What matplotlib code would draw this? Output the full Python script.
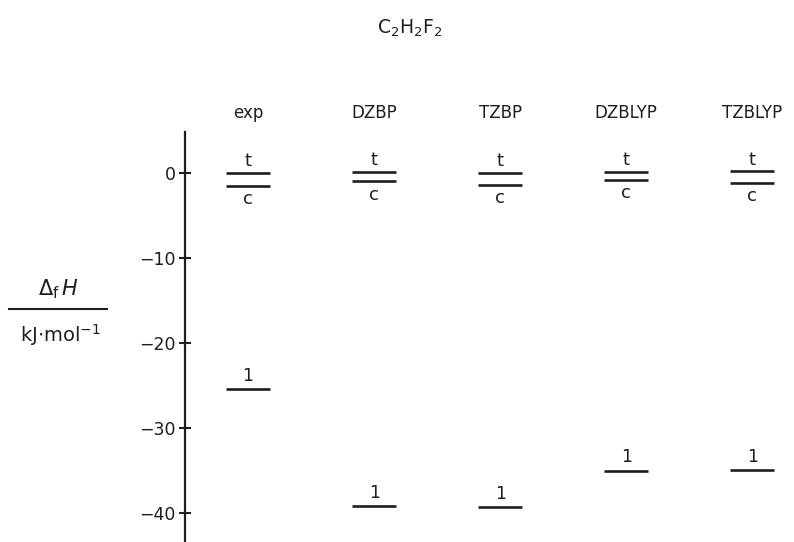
import matplotlib.pyplot as plt
from matplotlib.lines import Line2D

# energy levels, kJ/mol
methods = ["exp", "DZBP", "TZBP", "DZBLYP", "TZBLYP"]
trans_lvl = [0.0, 0.1, 0.05, 0.15, 0.2]
cis_lvl = [-1.5, -1.0, -1.45, -0.8, -1.2]
iso11_lvl = [-25.4, -39.2, -39.3, -35.0, -34.9]
yticks = [0, -10, -20, -30, -40]

ink = "#1e1e1e"
plt.rcParams["font.family"] = ["DejaVu Sans"]
plt.rcParams["mathtext.fontset"] = "dejavusans"

fig = plt.figure(figsize=(7.94, 5.42), dpi=100)
ax = fig.add_axes([185 / 794, 0, 609 / 794, 410 / 542])
ax.set_xlim(-0.5, 4.33)
ax.set_ylim(-43.4, 4.82)

hw = 0.175
for i, m in enumerate(methods):
    ax.hlines([trans_lvl[i], cis_lvl[i], iso11_lvl[i]], i - hw, i + hw, color=ink, lw=1.9)
    ax.annotate("t", (i, trans_lvl[i]), xytext=(0, 2), textcoords="offset points",
                ha="center", va="bottom", fontsize=13, color=ink)
    ax.annotate("c", (i, cis_lvl[i]), xytext=(0, -3), textcoords="offset points",
                ha="center", va="top", fontsize=13, color=ink)
    ax.annotate("1", (i, iso11_lvl[i]), xytext=(0, 3), textcoords="offset points",
                ha="center", va="bottom", fontsize=12.5, color=ink)
    ax.text(i, 1.034, m, transform=ax.get_xaxis_transform(), ha="center", va="baseline",
            fontsize=12, color=ink)

for s in ["top", "right", "bottom"]:
    ax.spines[s].set_visible(False)
ax.spines["left"].set_linewidth(1.6)
ax.spines["left"].set_color(ink)
ax.set_xticks([])
ax.set_yticks(yticks)
ax.set_yticklabels([str(v).replace("-", "\u2212") for v in yticks])
ax.tick_params(axis="y", direction="inout", length=9, width=1.5, colors=ink,
               labelsize=12.5, pad=2)

fig.text(410 / 794, 1 - 28 / 542, "C$_2$H$_2$F$_2$", ha="center", va="center",
         fontsize=13.5, color=ink)

# y label as a fraction
fig.text(58 / 794, 1 - 289 / 542, r"$\Delta_\mathrm{f}\,H$", ha="center", va="center",
         fontsize=15, color=ink)
fig.add_artist(Line2D([9 / 794, 107 / 794], [1 - 309 / 542, 1 - 309 / 542],
                      color=ink, lw=1.5))
fig.text(60 / 794, 1 - 335 / 542, r"kJ$\cdot$mol$^{-1}$", ha="center", va="center",
         fontsize=14, color=ink)

fig.savefig("out.png", dpi=100, facecolor="white")
